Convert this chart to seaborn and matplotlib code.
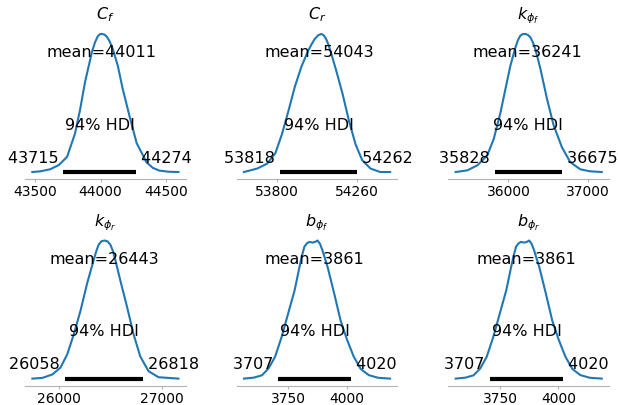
import numpy as np
import matplotlib
matplotlib.use("Agg")
import matplotlib.pyplot as plt
import seaborn as sns

# posterior densities (relative height, peak = 1)
cf_x = [43478, 43540, 43615, 43680, 43744, 43805, 43843, 43881, 43910, 43934, 43958, 43980,
        43995, 44010, 44030, 44048, 44070, 44094, 44132, 44170, 44223, 44276, 44352, 44400,
        44451, 44520, 44596]
cf_y = [0.0, 0.005, 0.02, 0.05, 0.11, 0.28, 0.45, 0.65, 0.77, 0.87, 0.94, 0.985,
        0.998, 1.0, 0.995, 0.98, 0.945, 0.89, 0.77, 0.6, 0.4, 0.21, 0.07, 0.03,
        0.01, 0.002, 0.0]

cr_x = [53610, 53686, 53743, 53791, 53828, 53866, 53904, 53942, 53980, 54000, 54018, 54038,
        54056, 54070, 54084, 54098, 54112, 54141, 54178, 54216, 54254, 54292, 54340, 54396,
        54453]
cr_y = [0.0, 0.025, 0.06, 0.136, 0.27, 0.44, 0.62, 0.765, 0.877, 0.925, 0.963, 0.99,
        1.0, 0.99, 0.963, 0.92, 0.864, 0.74, 0.57, 0.37, 0.2, 0.086, 0.025, 0.0,
        0.0]

kf_x = [35334, 35481, 35607, 35733, 35815, 35900, 35962, 36025, 36088, 36120, 36151, 36183,
        36214, 36245, 36277, 36308, 36340, 36403, 36487, 36570, 36675, 36780, 36906, 37031,
        37178]
kf_y = [0.0, 0.012, 0.048, 0.12, 0.24, 0.43, 0.6, 0.77, 0.9, 0.955, 0.988, 0.999,
        1.0, 0.993, 0.976, 0.94, 0.89, 0.75, 0.53, 0.34, 0.18, 0.072, 0.02, 0.005,
        0.0]

kr_x = [25742, 25839, 25936, 26016, 26081, 26145, 26210, 26275, 26339, 26365, 26387, 26415,
        26446, 26475, 26501, 26525, 26549, 26598, 26663, 26727, 26792, 26872, 26969, 27163]
kr_y = [0.0, 0.005, 0.03, 0.08, 0.175, 0.32, 0.49, 0.69, 0.86, 0.925, 0.97, 0.995,
        1.0, 0.993, 0.97, 0.925, 0.86, 0.71, 0.52, 0.32, 0.16, 0.054, 0.01, 0.0]

b_x = [3560, 3602, 3637, 3665, 3693, 3721, 3749, 3777, 3798, 3810, 3819, 3830, 3840, 3854,
       3865, 3875, 3886, 3896, 3918, 3946, 3974, 4002, 4030, 4060, 4095, 4135, 4186]
b_y = [0.0, 0.007, 0.024, 0.073, 0.157, 0.30, 0.47, 0.64, 0.81, 0.9, 0.956, 0.98, 0.99,
       0.985, 0.99, 1.0, 0.975, 0.93, 0.81, 0.62, 0.42, 0.28, 0.16, 0.07, 0.025, 0.006, 0.0]

titles = [r"$C_f$", r"$C_r$", r"$k_{\phi_f}$", r"$k_{\phi_r}$", r"$b_{\phi_f}$", r"$b_{\phi_r}$"]
means = [44011, 54043, 36241, 26443, 3861, 3861]
hdi_low = [43715, 53818, 35828, 26058, 3707, 3707]
hdi_high = [44274, 54262, 36675, 26818, 4020, 4020]
xticks = [[43500, 44000, 44500], [53800, 54260], [36000, 37000],
          [26000, 27000], [3750, 4000], [3750, 4000]]

curves = [(cf_x, cf_y), (cr_x, cr_y), (kf_x, kf_y), (kr_x, kr_y), (b_x, b_y), (b_x, b_y)]

label_size = 11.5

fig, axes = plt.subplots(2, 3, figsize=(6.18, 4.06), dpi=100)
fig.subplots_adjust(left=0.0405, right=0.9855, bottom=0.048, top=0.931,
                    wspace=0.317, hspace=0.36)

for i, ax in enumerate(axes.flat):
    xs, ys = curves[i]
    sns.lineplot(x=xs, y=ys, ax=ax, color="#1f77b4", lw=1.5)
    lo, hi = hdi_low[i], hdi_high[i]
    ax.plot([lo, hi], [0, 0], lw=3, color="k", solid_capstyle="butt")

    plot_height = ax.get_ylim()[1]
    ax.text(lo, plot_height * 0.07, f"{lo} ", size=label_size, ha="right")
    ax.text(hi, plot_height * 0.07, f" {hi}", size=label_size, ha="left")
    ax.text((lo + hi) / 2, plot_height * 0.3, "94% HDI", size=label_size, ha="center")
    ax.text(means[i], plot_height * 0.8, f"mean={means[i]}", size=label_size, ha="center")

    ax.set_title(titles[i], fontsize=label_size)
    ax.set_xlabel("")
    ax.set_ylabel("")
    ax.set_yticks([])
    ax.set_xticks(xticks[i])
    ax.set_xticklabels([str(t) for t in xticks[i]])
    ax.tick_params(axis="x", labelsize=10, color="0.7", length=2.5, pad=1.5)
    for side in ["left", "right", "top"]:
        ax.spines[side].set_visible(False)
    ax.spines["bottom"].set_color("0.7")

fig.savefig("out.png", dpi=100)
